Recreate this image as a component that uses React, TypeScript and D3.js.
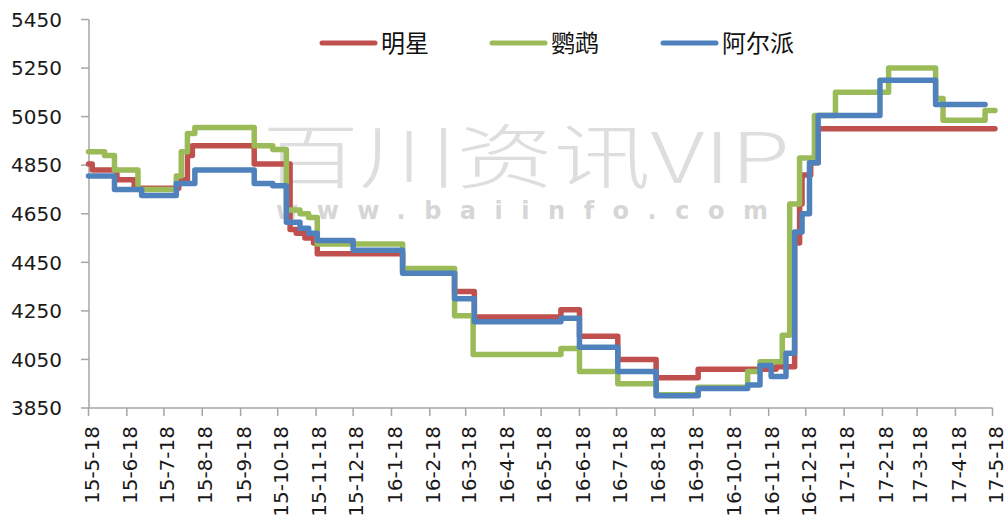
import React from "react";
import * as d3 from "d3";

const yTicks = [3850, 4050, 4250, 4450, 4650, 4850, 5050, 5250, 5450];
const xTickLabels = [
  "15-5-18", "15-6-18", "15-7-18", "15-8-18", "15-9-18", "15-10-18", "15-11-18", "15-12-18",
  "16-1-18", "16-2-18", "16-3-18", "16-4-18", "16-5-18", "16-6-18", "16-7-18", "16-8-18",
  "16-9-18", "16-10-18", "16-11-18", "16-12-18", "17-1-18", "17-2-18", "17-3-18", "17-4-18", "17-5-18",
];
const seriesNames = ["明星", "鹦鹉", "阿尔派"];
const seriesColors = ["#C0504D", "#9BBB59", "#4F81BD"];

const mingxing: [string, number][] = [
  ["2015-05-18", 4855], ["2015-05-21", 4830], ["2015-06-10", 4790], ["2015-06-24", 4755],
  ["2015-07-30", 4790], ["2015-08-06", 4890], ["2015-08-10", 4930], ["2015-09-29", 4855],
  ["2015-10-28", 4585], ["2015-11-02", 4570], ["2015-11-09", 4550], ["2015-11-16", 4530],
  ["2015-11-19", 4485], ["2016-01-27", 4410], ["2016-03-09", 4330], ["2016-03-25", 4225],
  ["2016-06-03", 4255], ["2016-06-18", 4145], ["2016-07-19", 4050], ["2016-08-19", 3975],
  ["2016-09-22", 4010], ["2016-11-24", 4020], ["2016-12-09", 4530], ["2016-12-13", 4690],
  ["2016-12-15", 4810], ["2016-12-22", 4860], ["2016-12-28", 5000], ["2017-05-20", 5000],
];
const yingwu: [string, number][] = [
  ["2015-05-18", 4905], ["2015-05-31", 4890], ["2015-06-08", 4830], ["2015-06-27", 4750],
  ["2015-07-28", 4805], ["2015-08-01", 4905], ["2015-08-06", 4980], ["2015-08-12", 5005],
  ["2015-09-29", 4930], ["2015-10-14", 4915], ["2015-10-25", 4665], ["2015-11-05", 4650],
  ["2015-11-12", 4635], ["2015-11-19", 4525], ["2016-01-27", 4425], ["2016-03-09", 4230],
  ["2016-03-24", 4070], ["2016-06-03", 4095], ["2016-06-18", 4000], ["2016-07-19", 3950],
  ["2016-08-19", 3905], ["2016-09-22", 3935], ["2016-11-01", 4000], ["2016-11-11", 4040],
  ["2016-11-29", 4150], ["2016-12-05", 4690], ["2016-12-13", 4880], ["2016-12-25", 5055],
  ["2017-01-11", 5150], ["2017-02-23", 5250], ["2017-04-02", 5125], ["2017-04-08", 5035],
  ["2017-05-12", 5075], ["2017-05-20", 5075],
];
const aerpai: [string, number][] = [
  ["2015-05-18", 4805], ["2015-06-08", 4750], ["2015-06-30", 4725], ["2015-07-28", 4775],
  ["2015-08-12", 4830], ["2015-09-29", 4775], ["2015-10-14", 4765], ["2015-10-25", 4615],
  ["2015-11-05", 4590], ["2015-11-12", 4570], ["2015-11-19", 4540], ["2015-12-18", 4500],
  ["2016-01-27", 4405], ["2016-03-09", 4300], ["2016-03-25", 4205], ["2016-06-03", 4220],
  ["2016-06-18", 4100], ["2016-07-19", 4000], ["2016-08-19", 3900], ["2016-09-22", 3930],
  ["2016-11-01", 3945], ["2016-11-11", 4025], ["2016-11-20", 3980], ["2016-12-02", 4075],
  ["2016-12-09", 4575], ["2016-12-15", 4650], ["2016-12-21", 4860], ["2016-12-28", 5055],
  ["2017-02-16", 5200], ["2017-04-02", 5100], ["2017-05-12", 5100],
];

const W = 1006;
const H = 525;
const parse = d3.timeParse("%Y-%m-%d");
const labelDate = d3.timeParse("%y-%m-%d");

export default function App() {
  const x = d3
    .scaleTime()
    .domain([parse("2015-05-18")!, parse("2017-05-18")!])
    .range([88.5, 992.5]);
  const y = d3.scaleLinear().domain([3850, 5450]).range([408, 19.5]);
  const line = d3
    .line<[string, number]>()
    .x((d) => x(parse(d[0])!))
    .y((d) => y(d[1]))
    .curve(d3.curveStepAfter);
  const all = [mingxing, yingwu, aerpai];
  const axisColor = "#A6A6A6";
  const font = "'DejaVu Sans', Verdana, sans-serif";
  const legendX = [322, 492, 663];

  return (
    <svg width={W} height={H} style={{ position: "absolute", left: 0, top: 0, background: "#fff" }}>
      {/* watermark */}
      <text x={262} y={183} fontFamily="'Noto Sans CJK SC', sans-serif" fontWeight={300} fontSize={70} fill="#DEDEDE" textLength={528} lengthAdjust="spacingAndGlyphs">
        百川资讯VIP
      </text>
      <text x={276} y={219} fontFamily="'DejaVu Sans', sans-serif" fontWeight="bold" fontSize={24} fill="#D6D6D6" textLength={492} lengthAdjust="spacing">
        www.baiinfo.com
      </text>

      {/* y axis */}
      <line x1={89} x2={89} y1={y(5450)} y2={y(3850)} stroke={axisColor} strokeWidth={1.5} />
      {yTicks.map((t) => (
        <g key={t}>
          <line x1={81} x2={89} y1={y(t)} y2={y(t)} stroke={axisColor} strokeWidth={1.5} />
          <text x={62} y={y(t)} dy="0.36em" textAnchor="end" fontFamily={font} fontSize={20} fill="#1a1a1a">
            {t}
          </text>
        </g>
      ))}

      {/* x axis */}
      <line x1={x.range()[0]} x2={x.range()[1]} y1={408} y2={408} stroke={axisColor} strokeWidth={1.5} />
      {xTickLabels.map((lab) => {
        const xp = x(labelDate(lab)!);
        return (
          <g key={lab}>
            <line x1={xp} x2={xp} y1={408} y2={416} stroke={axisColor} strokeWidth={1.5} />
            <text
              transform={`translate(${xp + 3},426) rotate(-90)`}
              textAnchor="end"
              dy="0.36em"
              fontFamily={font}
              fontSize={20}
              fill="#1a1a1a"
            >
              {lab}
            </text>
          </g>
        );
      })}

      {/* series */}
      {all.map((s, i) => (
        <path
          key={i}
          d={line(s) || ""}
          fill="none"
          stroke={seriesColors[i]}
          strokeWidth={5.5}
          strokeLinejoin="round"
          strokeLinecap="round"
        />
      ))}

      {/* legend */}
      {seriesNames.map((n, i) => (
        <g key={n}>
          <line x1={legendX[i]} x2={legendX[i] + 53} y1={43} y2={43} stroke={seriesColors[i]} strokeWidth={5} strokeLinecap="round" />
          <text x={legendX[i] + 59} y={43} dy="0.36em" fontFamily="'Noto Sans CJK SC', sans-serif" fontSize={24} fill="#111">
            {n}
          </text>
        </g>
      ))}
    </svg>
  );
}
